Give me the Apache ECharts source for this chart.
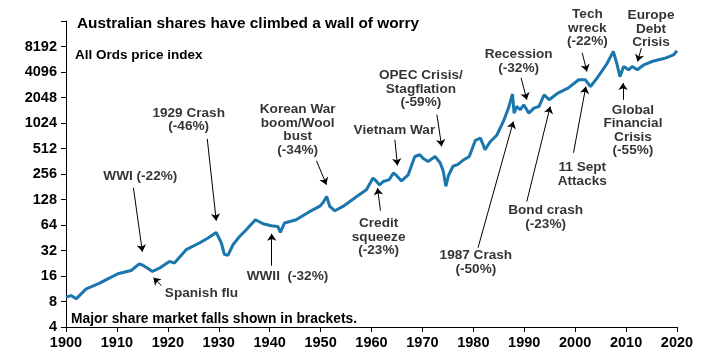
<!DOCTYPE html>
<html><head><meta charset="utf-8">
<script src="https://cdn.jsdelivr.net/npm/echarts@6/dist/echarts.min.js"></script>
<style>html,body{margin:0;padding:0;background:#fff}#c{width:701px;height:355px}</style>
</head><body><div id="c"></div>
<script>
// All Ords price index (log2 scale)
const years = [1900.0,1901.0,1902.0,1903.9,1906.6,1908.5,1910.2,1912.8,1914.4,1915.2,1917.0,1918.4,1920.3,1921.3,1923.6,1926.2,1927.9,1929.5,1930.5,1931.1,1931.8,1932.8,1934.1,1935.4,1937.2,1938.7,1940.3,1941.6,1942.1,1942.9,1945.2,1947.9,1949.8,1950.5,1951.2,1951.8,1952.8,1954.4,1957.1,1959.0,1960.3,1961.0,1961.6,1962.3,1963.5,1964.3,1965.0,1965.9,1967.2,1968.5,1969.5,1970.1,1971.1,1972.5,1973.5,1974.1,1974.6,1975.1,1976.0,1976.9,1977.9,1979.2,1980.4,1981.4,1982.3,1983.3,1984.6,1985.9,1986.9,1987.7,1988.0,1988.5,1989.2,1989.9,1990.9,1991.9,1992.9,1993.9,1994.9,1996.6,1998.6,2000.7,2002.0,2003.0,2004.3,2006.2,2007.5,2008.2,2008.8,2009.5,2010.5,2011.2,2012.2,2013.5,2015.1,2016.4,2017.7,2019.3,2020.0];
const values = [9.0,9.4,8.6,11.2,13.2,15.1,17.0,18.6,22.2,21.3,18.1,19.9,23.8,22.8,32.7,39.2,44.9,52.3,39.5,28.9,28.0,37.4,46.9,56.3,73.8,66.2,62.7,61.6,52.3,67.5,73.8,92.5,106,118,139,106,94.3,106,139,167,229,209,190,209,220,263,243,212,250,412,432,394,360,412,345,276,183,244,316,330,369,412,640,680,495,615,734,1068,1536,2250,1340,1605,1467,1680,1340,1536,1605,2204,1924,2309,2645,3313,3313,2762,3470,5092,7151,5092,3610,4757,4348,4757,4348,4980,5449,5707,5976,6520,7288];
const yTicks = [4,8,16,32,64,128,256,512,1024,2048,4096,8192];

// annotation texts and their anchor [year, value]
const noteTexts = ['1929 Crash\n(-46%)','Korean War\nboom/Wool\nbust\n(-34%)','WWI (-22%)','Spanish flu','WWII  (-32%)','Vietnam War','OPEC Crisis/\nStagflation\n(-59%)','Credit\nsqueeze\n(-23%)','1987 Crash\n(-50%)','Recession\n(-32%)','Bond crash\n(-23%)','11 Sept\nAttacks','Tech\nwreck\n(-22%)','Europe\nDebt\nCrisis','Global\nFinancial\nCrisis\n(-55%)'];
const noteYears = [1924.1,1945.5,1914.6,1926.6,1943.5,1964.5,1969.7,1961.4,1980.5,1988.9,1994.2,2001.4,2002.4,2014.9,2011.35];
const noteValues = [1118,852,244,9.9,15.7,852,2594,46.5,23.3,5480,78.6,254,13616,13245,840];

// arrows: from [year, value] to [year, value]
const arrowFrom = [[1927.74,667],[1949.2,367],[1913.24,176],[1918.75,12.3],[1940.4,21.2],[1964.59,649],[1972.85,1280],[1961.77,94.3],[1980.92,34.5],[1989.38,3500],[1990.5,121],[1999.67,456],[2001.38,6904],[2013.0,7843],[2009.4,1924]];
const arrowTo = [[1929.51,71.8],[1951.15,191],[1915.0,30.9],[1917.17,15.3],[1940.4,50.5],[1965.1,323],[1973.78,541],[1961.18,175],[1987.86,1068],[1990.5,1924],[1995.1,1605],[2002.1,2762],[2002.3,4152],[2012.26,5449],[2009.4,3030]];

const FONT = 'Liberation Sans, Arial, sans-serif';
const chart = echarts.init(document.getElementById('c'), null, {renderer:'canvas'});
chart.setOption({
  animation:false,
  backgroundColor:'#fff',
  textStyle:{fontFamily:FONT},
  title:{text:'Australian shares have climbed a wall of worry',left:72,top:16,padding:[0,5],
    textStyle:{fontFamily:FONT,fontSize:15.4,fontWeight:'bold',color:'#000'}},
  graphic:[
    {type:'text',left:75,top:48,style:{text:'All Ords price index',font:'bold 13.5px '+FONT,fill:'#000'}},
    {type:'text',left:71,top:312,style:{text:'Major share market falls shown in brackets.',font:'bold 13.8px '+FONT,fill:'#000'}}
  ],
  grid:{left:66,right:24,top:21,bottom:28,containLabel:false},
  xAxis:{type:'value',min:1900,max:2020,interval:10,
    axisLine:{lineStyle:{color:'#000',width:1}},
    axisTick:{show:true,length:5,lineStyle:{color:'#000'}},
    splitLine:{show:false},
    axisLabel:{color:'#000',fontFamily:FONT,fontSize:14.5,fontWeight:'bold',margin:8,formatter:v=>String(Math.round(v))}},
  yAxis:{type:'log',logBase:2,min:4,max:16384,interval:1,
    axisLine:{show:true,lineStyle:{color:'#000',width:1}},
    axisTick:{show:true,length:5,lineStyle:{color:'#000'}},
    splitLine:{show:false},minorTick:{show:false},
    axisLabel:{color:'#000',fontFamily:FONT,fontSize:14.5,fontWeight:'bold',margin:9,showMinLabel:true,showMaxLabel:true,hideOverlap:false,
      formatter:v=>{const r=Math.round(v);return yTicks.indexOf(r)>=0?String(r):'';}}},
  series:[
    {type:'line',data:years.map((y,i)=>[y,values[i]]),showSymbol:false,smooth:false,
      lineStyle:{color:'#1a76ad',width:3},itemStyle:{color:'#1a76ad'},
      markLine:{silent:true,symbol:['none','arrow'],symbolSize:7,animation:false,
        lineStyle:{color:'#000',width:1,type:'solid'},label:{show:false},emphasis:{disabled:true},
        data:arrowFrom.map((f,i)=>[{coord:f},{coord:arrowTo[i]}])}},
    {type:'scatter',symbolSize:1,itemStyle:{color:'rgba(0,0,0,0)'},silent:true,
      data:noteYears.map((y,i)=>({value:[y,noteValues[i]],label:{formatter:noteTexts[i]}})),
      label:{show:true,position:'inside',color:'#000',fontFamily:FONT,fontSize:13.6,fontWeight:'bold',lineHeight:13.5,align:'center',verticalAlign:'middle'}}
  ]
});
</script></body></html>
